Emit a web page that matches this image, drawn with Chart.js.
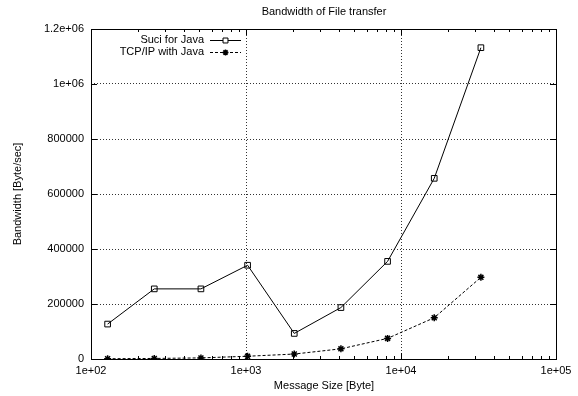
<!DOCTYPE html>
<html>
<head>
<meta charset="utf-8">
<script src="https://cdn.jsdelivr.net/npm/chart.js@4"></script>
<style>
  html, body { margin: 0; padding: 0; background: #fff; }
  #wrap { width: 578px; height: 396px; }
</style>
</head>
<body>
<div id="wrap"><canvas id="chart" width="578" height="396"></canvas></div>
<script>
// message sizes in bytes
const sizes = [128, 256, 512, 1024, 2048, 4096, 8192, 16384, 32768];
const suciJava = [127000, 255000, 255000, 341000, 93000, 187000, 355000, 657000, 1132000];
const tcpJava = [1000, 2000, 4000, 10000, 18000, 37000, 75000, 150000, 297000];
const decades = [100, 1000, 10000, 100000];
const yTicks = [0, 200000, 400000, 600000, 800000, 1000000, 1200000];

const FONT = '11px "Liberation Sans", Arial, sans-serif';

function fmtExp(v) {
    let e = Math.floor(Math.log10(v) + 1e-9);
    let m = +(v / Math.pow(10, e)).toFixed(2);
    return m + 'e+' + String(e).padStart(2, '0');
}

// all minor positions 1..9 x 10^n between 1e2 and 1e5
const xTickVals = [];
for (let e = 2; e <= 5; e++) {
    for (let m = 1; m <= 9; m++) {
        const v = m * Math.pow(10, e);
        if (v <= 100000) xTickVals.push(v);
    }
}

const gnuplotFrame = {
    id: 'gnuplotFrame',
    afterDatasetsDraw(chart) {
        const { ctx, chartArea: a, scales } = chart;
        ctx.save();
        ctx.strokeStyle = '#000';
        ctx.lineWidth = 1;
        ctx.setLineDash([]);
        ctx.beginPath();
        // inward tick marks
        xTickVals.forEach(v => {
            const px = Math.round(scales.x.getPixelForValue(v)) + 0.5;
            const len = decades.includes(v) ? 6 : 3;
            ctx.moveTo(px, a.bottom); ctx.lineTo(px, a.bottom - len);
            ctx.moveTo(px, a.top); ctx.lineTo(px, a.top + len);
        });
        yTicks.forEach(v => {
            const py = Math.round(scales.y.getPixelForValue(v)) + 0.5;
            ctx.moveTo(a.left, py); ctx.lineTo(a.left + 6, py);
            ctx.moveTo(a.right, py); ctx.lineTo(a.right - 6, py);
        });
        ctx.stroke();
        ctx.strokeRect(Math.round(a.left) + 0.5, Math.round(a.top) + 0.5,
            Math.round(a.right - a.left), Math.round(a.bottom - a.top));

        // titles
        ctx.fillStyle = '#000';
        ctx.font = FONT;
        ctx.textAlign = 'center';
        ctx.textBaseline = 'middle';
        ctx.fillText('Bandwidth of File transfer', 324, 12);
        ctx.fillText('Message Size [Byte]', 324, 386);
        ctx.save();
        ctx.translate(18, 194);
        ctx.rotate(-Math.PI / 2);
        ctx.fillText('Bandwidth [Byte/sec]', 0, 0);
        ctx.restore();

        // legend, gnuplot style: text then sample
        chart.data.datasets.forEach((ds, i) => {
            const y = 40 + i * 11.5;
            ctx.fillStyle = '#000';
            ctx.textAlign = 'right';
            ctx.fillText(ds.label, 204, y);
            ctx.beginPath();
            ctx.setLineDash(ds.borderDash || []);
            ctx.moveTo(210, Math.round(y) + 0.5); ctx.lineTo(241, Math.round(y) + 0.5);
            ctx.stroke();
            ctx.setLineDash([]);
            ctx.fillStyle = '#fff';
            ctx.lineWidth = ds.pointBorderWidth;
            Chart.helpers.drawPoint(ctx, {
                pointStyle: ds.pointStyle, radius: ds.pointRadius - 0.5,
                borderWidth: ds.pointBorderWidth, rotation: 0
            }, 225.5, Math.round(y) + 0.5);
            ctx.lineWidth = 1;
        });
        ctx.restore();
    }
};

const tickFont = { family: '"Liberation Sans", Arial, sans-serif', size: 11 };

new Chart(document.getElementById('chart'), {
    type: 'line',
    data: {
        datasets: [{
            label: 'Suci for Java',
            data: sizes.map((s, i) => ({ x: s, y: suciJava[i] })),
            borderColor: '#000',
            borderWidth: 1,
            pointStyle: 'rect',
            pointRadius: 4,
            pointBorderWidth: 1,
            pointBackgroundColor: 'rgba(255,255,255,0)',
            pointBorderColor: '#000',
            tension: 0
        }, {
            label: 'TCP/IP with Java',
            data: sizes.map((s, i) => ({ x: s, y: tcpJava[i] })),
            borderColor: '#000',
            borderWidth: 1,
            borderDash: [3, 2],
            pointStyle: 'star',
            pointRadius: 3.5,
            pointBorderWidth: 1.5,
            pointBorderColor: '#000',
            tension: 0
        }]
    },
    options: {
        responsive: false,
        animation: false,
        events: [],
        layout: { padding: { left: 0, right: 22, top: 29, bottom: 0 } },
        plugins: { legend: { display: false }, tooltip: { enabled: false }, title: { display: false } },
        scales: {
            x: {
                type: 'logarithmic',
                min: 100,
                max: 100000,
                afterFit: s => { s.height = 37; },
                afterBuildTicks: s => { s.ticks = xTickVals.map(v => ({ value: v })); },
                border: { display: false, dash: [1, 2] },
                grid: {
                    drawTicks: false,
                    color: c => (c.tick && (c.tick.value === 1000 || c.tick.value === 10000)) ? '#333' : 'rgba(0,0,0,0)',
                    lineWidth: 1
                },
                ticks: {
                    autoSkip: false,
                    maxRotation: 0,
                    padding: 5,
                    color: '#000',
                    font: tickFont,
                    callback: v => decades.includes(v) ? fmtExp(v) : ''
                }
            },
            y: {
                min: 0,
                max: 1200000,
                afterFit: s => { s.width = 91; },
                afterBuildTicks: s => { s.ticks = yTicks.map(v => ({ value: v })); },
                border: { display: false, dash: [1, 2] },
                grid: {
                    drawTicks: false,
                    color: c => (c.tick && c.tick.value > 0 && c.tick.value < 1200000) ? '#333' : 'rgba(0,0,0,0)',
                    lineWidth: 1
                },
                ticks: {
                    padding: 7,
                    color: '#000',
                    font: tickFont,
                    callback: v => v >= 1000000 ? fmtExp(v) : String(v)
                }
            }
        }
    },
    plugins: [gnuplotFrame]
});
</script>
</body>
</html>
